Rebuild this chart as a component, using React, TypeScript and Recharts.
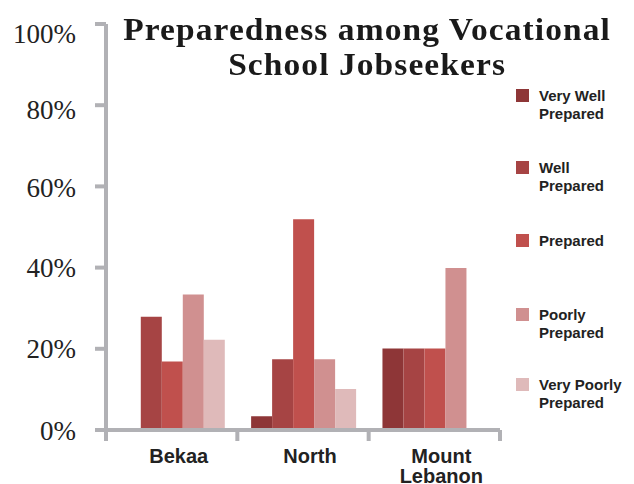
import React from 'react';
import { BarChart, Bar, XAxis, YAxis, Legend } from 'recharts';

const regions = ['Bekaa', 'North', 'Mount Lebanon'];
const veryWell = [0, 3.4, 20.1];
const well = [27.9, 17.4, 20.1];
const prepared = [16.9, 51.9, 20.1];
const poorly = [33.4, 17.4, 39.9];
const veryPoorly = [22.2, 10.1, 0];
const yTicks = [0, 20, 40, 60, 80, 100];
const seriesNames = ['Very Well Prepared', 'Well Prepared', 'Prepared', 'Poorly Prepared', 'Very Poorly Prepared'];
const seriesLines = [['Very Well', 'Prepared'], ['Well', 'Prepared'], ['Prepared'], ['Poorly', 'Prepared'], ['Very Poorly', 'Prepared']];
const seriesColors = ['#8e3637', '#a64444', '#c0504d', '#d09090', '#dfbaba'];

const data = regions.map((r, i) => ({
  region: r,
  s0: veryWell[i],
  s1: well[i],
  s2: prepared[i],
  s3: poorly[i],
  s4: veryPoorly[i],
}));
const seriesValues = [veryWell, well, prepared, poorly, veryPoorly];

const AXIS = '#b1b1b5';
const legendTops = [87, 159, 232, 306, 376];
const yLabelShift: Record<number, number> = { 100: 9, 80: 4, 60: 1 };

const XTick = (props: any) => {
  const { x, y, payload, index } = props;
  const half = payload.offset || 0;
  const words = String(payload.value).split(' ');
  return (
    <g>
      <line x1={x - half} y1={y - 8} x2={x - half} y2={y + 3} stroke={AXIS} strokeWidth={4} />
      {index === regions.length - 1 && (
        <line x1={x + half} y1={y - 8} x2={x + half} y2={y + 3} stroke={AXIS} strokeWidth={4} />
      )}
      <text
        x={x + 7}
        y={y + 25}
        textAnchor="middle"
        fontFamily="'Liberation Sans', Arial, sans-serif"
        fontWeight="bold"
        fontSize={20}
        fill="#222"
      >
        {words.map((w, i) => (
          <tspan key={i} x={x + 7} dy={i === 0 ? 0 : 20}>
            {w}
          </tspan>
        ))}
      </text>
    </g>
  );
};

const YTick = (props: any) => {
  const { x, y, payload } = props;
  const shift = yLabelShift[payload.value] || 0;
  return (
    <text
      x={x}
      y={y + shift}
      dy="0.355em"
      textAnchor="end"
      fontFamily="'Liberation Serif', 'Times New Roman', serif"
      fontSize={27}
      fill="#222"
    >
      {`${payload.value}%`}
    </text>
  );
};

const renderLegend = (props: any) => {
  const payload = props.payload || [];
  return (
    <div style={{ position: 'relative', width: 0, height: 0 }}>
      {payload.map((p: any, i: number) => {
        const idx = seriesNames.indexOf(p.value);
        return (
          <div key={i} style={{ position: 'absolute', left: 516, top: legendTops[idx] }}>
            <div style={{ position: 'absolute', left: 0, top: 2, width: 13, height: 13, background: p.color }} />
            <div
              style={{
                position: 'absolute',
                left: 23,
                top: 0,
                fontFamily: "'Liberation Sans', Arial, sans-serif",
                fontWeight: 'bold',
                fontSize: 15,
                lineHeight: '17.5px',
                color: '#222',
                whiteSpace: 'nowrap',
              }}
            >
              {seriesLines[idx].map((l, k) => (
                <div key={k}>{l}</div>
              ))}
            </div>
          </div>
        );
      })}
    </div>
  );
};

export default function App() {
  return (
    <div style={{ position: 'fixed', left: 0, top: 0, width: 634, height: 484, background: '#fff' }}>
      <BarChart
        width={634}
        height={484}
        data={data}
        margin={{ top: 24, right: 134, bottom: 0, left: 0 }}
        barCategoryGap="10.5%"
        barGap={0}
      >
        <XAxis
          dataKey="region"
          height={54}
          axisLine={{ stroke: AXIS, strokeWidth: 4 }}
          tickLine={false}
          tick={<XTick />}
          interval={0}
        />
        <YAxis
          width={106}
          domain={[0, 100]}
          ticks={yTicks}
          axisLine={{ stroke: AXIS, strokeWidth: 4 }}
          tickLine={{ stroke: AXIS, strokeWidth: 4 }}
          tickSize={11}
          tickMargin={19}
          tick={<YTick />}
        />
        <Legend
          content={renderLegend}
          verticalAlign="top"
          align="left"
          height={0}
          wrapperStyle={{ position: 'absolute', left: 0, top: 0, width: 0, height: 0, overflow: 'visible' }}
        />
        {seriesValues.map((_, i) => (
          <Bar
            key={i}
            dataKey={`s${i}`}
            name={seriesNames[i]}
            fill={seriesColors[i]}
            isAnimationActive={false}
          />
        ))}
      </BarChart>
      <div
        style={{
          position: 'absolute',
          left: 100,
          top: 12,
          width: 534,
          textAlign: 'center',
          fontFamily: "'Liberation Serif', 'Times New Roman', serif",
          fontWeight: 'bold',
          fontSize: 31,
          letterSpacing: 1,
          lineHeight: '35px',
          color: '#1a1a1a',
          pointerEvents: 'none',
          transform: 'scaleX(1.08)',
          transformOrigin: '266px 0',
        }}
      >
        <div>Preparedness among Vocational</div>
        <div>School Jobseekers</div>
      </div>
    </div>
  );
}
